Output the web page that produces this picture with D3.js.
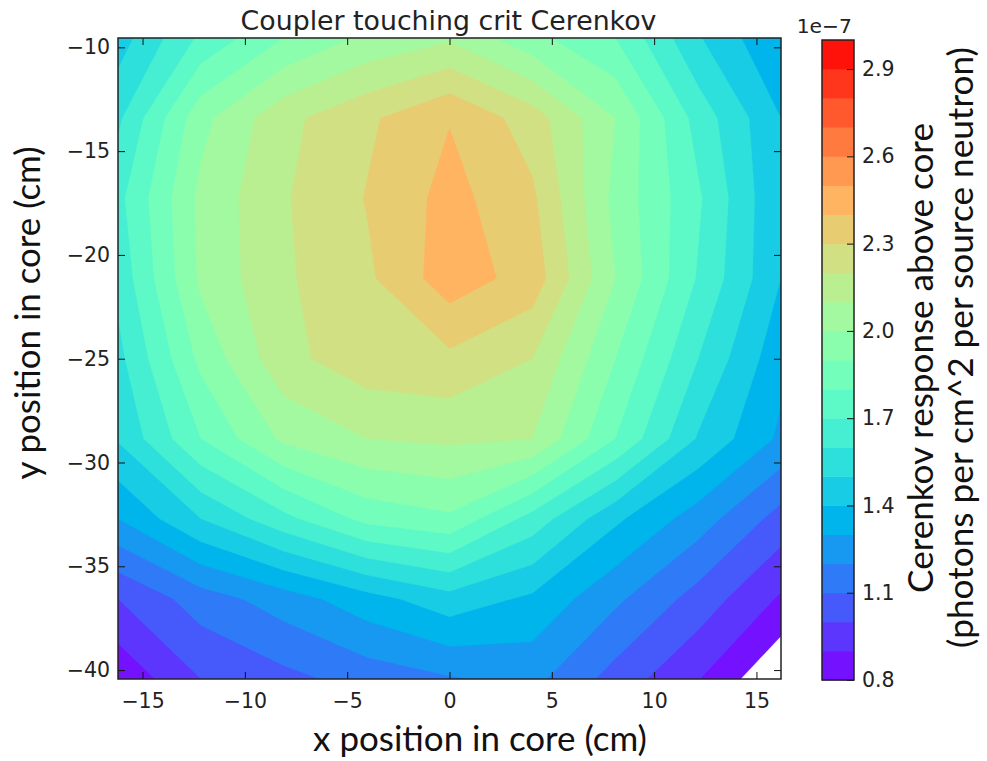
<!DOCTYPE html>
<html>
<head>
<meta charset="utf-8">
<script src="https://cdn.jsdelivr.net/npm/d3@7"></script>
<style>
  html, body { margin: 0; padding: 0; background: #fff; }
  svg { display: block; }
</style>
</head>
<body>
<svg id="chart" width="987" height="761"></svg>
<script>
// Sample grid positions (cm)
const xPositions = [-16.2, -12.15, -8.1, -4.05, 0, 4.05, 8.1, 12.15, 16.2];
const yPositions = [-9.55, -13.41, -17.27, -21.13, -24.99, -28.85, -32.71, -36.57, -40.43];

// Cerenkov response above core, in units of 1e-7 photons per cm^2 per source neutron.
// One row per y position (top to bottom), columns follow xPositions.
const response = [
  [1.45, 1.72, 1.90, 2.02, 2.085, 1.93, 1.80, 1.51, 1.30],
  [1.58, 1.968, 2.171, 2.281, 2.395, 2.25, 2.00, 1.66, 1.40],
  [1.67, 2.025, 2.19, 2.305, 2.435, 2.318, 1.97, 1.715, 1.40],
  [1.63, 2.02, 2.185, 2.28, 2.455, 2.358, 2.00, 1.69, 1.40],
  [1.57, 1.925, 2.17, 2.26, 2.278, 2.20, 1.90, 1.60, 1.33],
  [1.51, 1.80, 2.02, 2.10, 2.12, 2.10, 1.80, 1.49, 1.28],
  [1.30, 1.50, 1.67, 1.83, 1.88, 1.66, 1.42, 1.25, 1.06],
  [1.00, 1.15, 1.25, 1.36, 1.46, 1.38, 1.22, 1.06, 0.886],
  [0.82, 1.00, 1.07, 1.14, 1.19, 1.23, 1.06, 0.905, 0.70]
];

// Filled contour levels and tick labels
const levels = [0.8, 0.9, 1.0, 1.1, 1.2, 1.3, 1.4, 1.5, 1.6, 1.7, 1.8, 1.9,
                2.0, 2.1, 2.2, 2.3, 2.4, 2.5, 2.6, 2.7, 2.8, 2.9, 3.0];
const colorbarTicks = [0.8, 1.1, 1.4, 1.7, 2.0, 2.3, 2.6, 2.9];
const xTicks = [-15, -10, -5, 0, 5, 10, 15];
const yTicks = [-10, -15, -20, -25, -30, -35, -40];

const titleText = "Coupler touching crit Cerenkov";
const xLabel = "x position in core (cm)";
const yLabel = "y position in core (cm)";
const cbLabel1 = "Cerenkov response above core";
const cbLabel2 = "(photons per cm^2 per source neutron)";
const cbOffset = "1e\u22127";

// ---- layout ----
const plot = { left: 118, right: 781, top: 38, bottom: 679 };
const cbar = { left: 822, right: 854, top: 40, bottom: 680 };
const tickFont = "'DejaVu Sans', 'Bitstream Vera Sans', sans-serif";
const labelFont = "Lato, 'Open Sans', sans-serif";
const textColor = "#222";

const svg = d3.select("#chart");

const x = d3.scaleLinear()
  .domain([xPositions[0], xPositions[xPositions.length - 1]])
  .range([plot.left, plot.right]);
const y = d3.scaleLinear()
  .domain([yPositions[0], yPositions[yPositions.length - 1]])
  .range([plot.top, plot.bottom]);

// matplotlib "rainbow" colormap
function rainbow(t) {
  const c = v => Math.max(0, Math.min(1, v));
  const r = c(Math.abs(2 * t - 0.5));
  const g = c(Math.sin(Math.PI * t));
  const b = c(Math.cos(Math.PI * t / 2));
  return d3.rgb(r * 255, g * 255, b * 255).formatHex();
}
const vmin = levels[0], vmax = levels[levels.length - 1];
const bandColor = i => rainbow(((levels[i] + levels[i + 1]) / 2 - vmin) / (vmax - vmin));

// ---- filled contours ----
const nx = xPositions.length, ny = yPositions.length;
const contourGen = d3.contours()
  .size([nx, ny])
  .smooth(true)
  .thresholds(levels.slice(0, -1));
const bands = contourGen(response.flat());

// grid cell centres sit at (i + 0.5, j + 0.5) in contour space
const gx = d3.scaleLinear().domain([0.5, nx - 0.5]).range([x(xPositions[0]), x(xPositions[nx - 1])]);
const gy = d3.scaleLinear().domain([0.5, ny - 0.5]).range([y(yPositions[0]), y(yPositions[ny - 1])]);
const gridPath = d3.geoPath(d3.geoTransform({
  point: function(px, py) { this.stream.point(gx(px), gy(py)); }
}));

svg.append("defs").append("clipPath").attr("id", "plot-clip")
  .append("rect")
  .attr("x", plot.left).attr("y", plot.top)
  .attr("width", plot.right - plot.left).attr("height", plot.bottom - plot.top);

svg.append("g")
  .attr("clip-path", "url(#plot-clip)")
  .selectAll("path")
  .data(bands)
  .join("path")
  .attr("d", gridPath)
  .attr("fill", (d, i) => bandColor(i))
  .attr("stroke", (d, i) => bandColor(i))
  .attr("stroke-width", 0.4);

// ---- axes ----
function styleAxis(g) {
  g.select(".domain").remove();
  g.selectAll(".tick line").attr("stroke", "#111").attr("stroke-width", 1);
  g.selectAll(".tick text")
    .attr("fill", textColor)
    .attr("font-family", tickFont)
    .attr("font-size", 20.5);
}

svg.append("g")
  .attr("transform", `translate(0,${plot.bottom})`)
  .call(d3.axisBottom(x).tickValues(xTicks).tickSize(-7).tickPadding(14))
  .call(styleAxis);
svg.append("g")
  .attr("transform", `translate(0,${plot.top})`)
  .call(d3.axisTop(x).tickValues(xTicks).tickSize(-7).tickFormat(""))
  .call(styleAxis);
svg.append("g")
  .attr("transform", `translate(${plot.left},0)`)
  .call(d3.axisLeft(y).tickValues(yTicks).tickSize(-7).tickPadding(8))
  .call(styleAxis);
svg.append("g")
  .attr("transform", `translate(${plot.right},0)`)
  .call(d3.axisRight(y).tickValues(yTicks).tickSize(-7).tickFormat(""))
  .call(styleAxis);

svg.append("rect")
  .attr("x", plot.left).attr("y", plot.top)
  .attr("width", plot.right - plot.left).attr("height", plot.bottom - plot.top)
  .attr("fill", "none").attr("stroke", "#222").attr("stroke-width", 1.5);

// ---- title ----
function fitWidth(sel, target) {
  const w = sel.node().getComputedTextLength();
  const fs = parseFloat(sel.attr("font-size"));
  sel.attr("font-size", (fs * target / w).toFixed(2));
}

svg.append("text")
  .attr("x", 448.5).attr("y", 30)
  .attr("text-anchor", "middle")
  .attr("font-family", tickFont)
  .attr("font-size", 25)
  .attr("fill", textColor)
  .text(titleText)
  .call(fitWidth, 416);

// ---- axis labels ----
svg.append("text")
  .attr("x", 480).attr("y", 751)
  .attr("text-anchor", "middle")
  .attr("font-family", labelFont)
  .attr("font-size", 32)
  .attr("fill", "#111")
  .text(xLabel)
  .call(fitWidth, 334);

svg.append("text")
  .attr("transform", "translate(40,313) rotate(-90)")
  .attr("text-anchor", "middle")
  .attr("font-family", labelFont)
  .attr("font-size", 32)
  .attr("fill", "#111")
  .text(yLabel)
  .call(fitWidth, 333);

// ---- colorbar ----
const cb = d3.scaleLinear().domain([vmin, vmax]).range([cbar.bottom, cbar.top]);
const cbG = svg.append("g");
cbG.selectAll("rect.band")
  .data(levels.slice(0, -1))
  .join("rect")
  .attr("class", "band")
  .attr("x", cbar.left)
  .attr("width", cbar.right - cbar.left)
  .attr("y", (d, i) => cb(levels[i + 1]))
  .attr("height", (d, i) => cb(levels[i]) - cb(levels[i + 1]) + 0.5)
  .attr("fill", (d, i) => bandColor(i));

svg.append("g")
  .attr("transform", `translate(${cbar.right},0)`)
  .call(d3.axisRight(cb).tickValues(colorbarTicks).tickSize(-7).tickPadding(8).tickFormat(d3.format(".1f")))
  .call(styleAxis);

svg.append("rect")
  .attr("x", cbar.left).attr("y", cbar.top)
  .attr("width", cbar.right - cbar.left).attr("height", cbar.bottom - cbar.top)
  .attr("fill", "none").attr("stroke", "#222").attr("stroke-width", 1.5);

svg.append("text")
  .attr("x", 852).attr("y", 33)
  .attr("text-anchor", "end")
  .attr("font-family", tickFont)
  .attr("font-size", 20.3)
  .attr("fill", textColor)
  .text(cbOffset);

svg.append("text")
  .attr("transform", "translate(933,358) rotate(-90)")
  .attr("text-anchor", "middle")
  .attr("font-family", labelFont)
  .attr("font-size", 32)
  .attr("fill", "#111")
  .text(cbLabel1)
  .call(fitWidth, 470);

svg.append("text")
  .attr("transform", "translate(973,347.5) rotate(-90)")
  .attr("text-anchor", "middle")
  .attr("font-family", labelFont)
  .attr("font-size", 32)
  .attr("fill", "#111")
  .text(cbLabel2)
  .call(fitWidth, 601);
</script>
</body>
</html>
